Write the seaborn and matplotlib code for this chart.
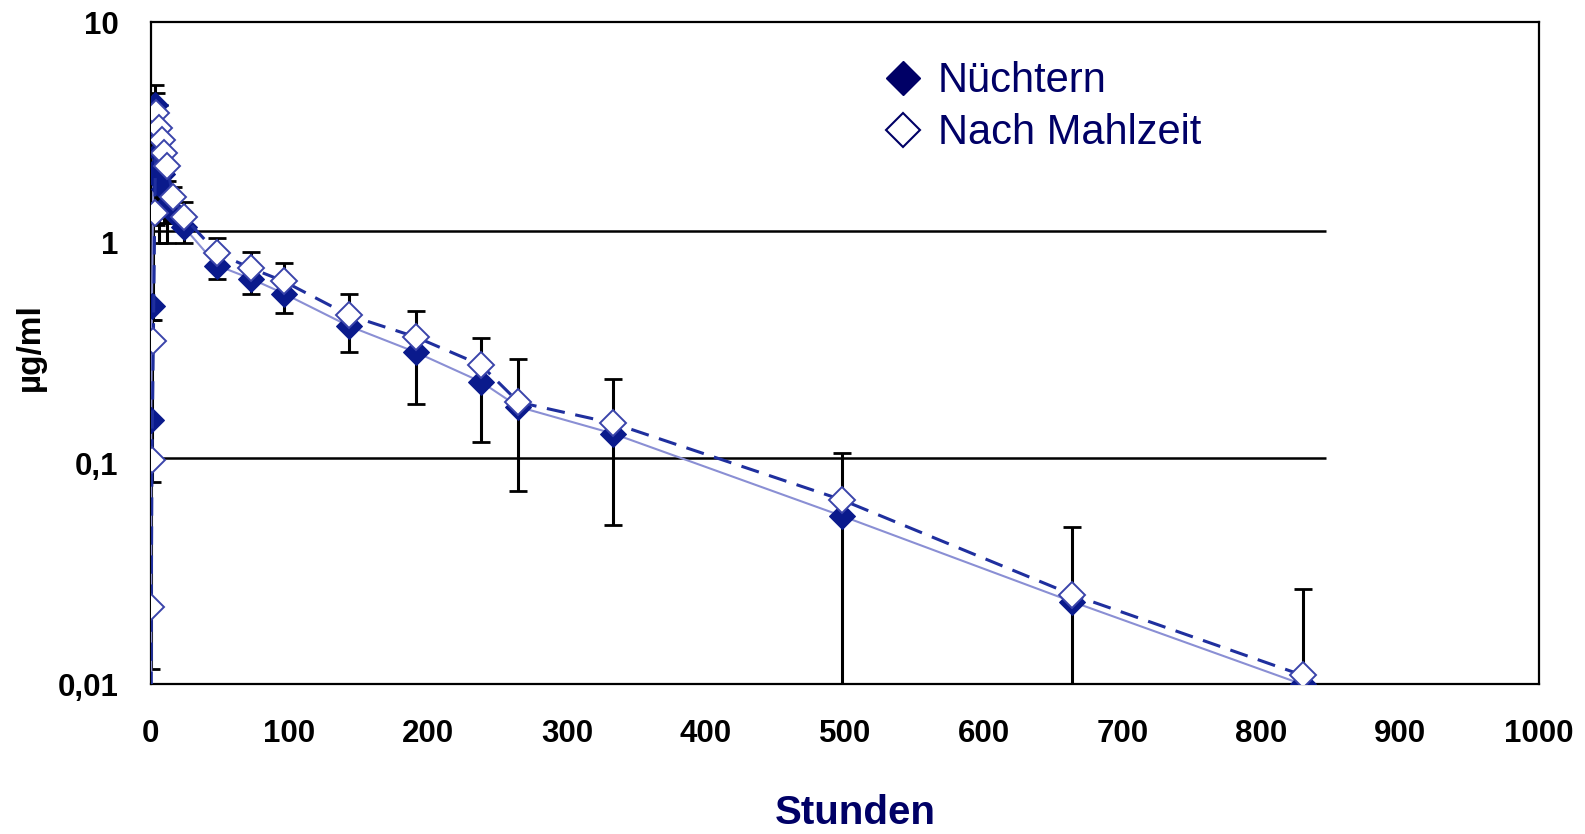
import numpy as np
import pandas as pd
import matplotlib
matplotlib.use("Agg")
import matplotlib.pyplot as plt
import seaborn as sns
from matplotlib.lines import Line2D

# ---- data ----
hours = [0, 0.5, 1, 2, 3, 4, 6, 8, 10, 12, 16, 24, 48, 72, 96,
         143, 191, 238, 265, 333, 498, 664, 830]
nuechtern = [0, 0.158, 0.52, 2.07, 4.22, 3.31, 2.59, 2.05, 1.75, 1.48, 1.38, 1.18,
             0.79, 0.69, 0.59, 0.42, 0.32, 0.235, 0.181, 0.137, 0.058, 0.0237, 0.0100]
nach_mahlzeit = [0, 0.0225, 0.104, 0.36, 1.36, 3.87, 3.31, 2.93, 2.55, 2.22, 1.62, 1.31,
                 0.90, 0.77, 0.67, 0.47, 0.375, 0.28, 0.19, 0.1526, 0.0686, 0.0255, 0.0110]
err_low = [np.nan, 0.0118, 0.083, 0.45, 1.5, 1.2, 1.0, 1.3, 1.23, 1.0, 1.23, 1.0,
           0.685, 0.59, 0.48, 0.32, 0.187, 0.126, 0.0755, 0.0528, 0.0101, 0.009, 0.009]
err_high = [np.nan, 0.45, 1.5, 4.0, 5.19, 4.8, 4.2, 3.0, 2.5, 1.9, 1.8, 1.54,
            1.05, 0.91, 0.81, 0.59, 0.49, 0.37, 0.298, 0.241, 0.112, 0.0516, 0.027]
grid_levels = [1.127, 0.106]
x_ticks = [0, 100, 200, 300, 400, 500, 600, 700, 800, 900, 1000]
x_tick_labels = ["0", "100", "200", "300", "400", "500", "600", "700", "800", "900", "1000"]
y_ticks = [0.01, 0.1, 1, 10]
y_tick_labels = ["0,01", "0,1", "1", "10"]
series_labels = ["Nüchtern", "Nach Mahlzeit"]

# ---- style ----
sns.set_style("white")
plt.rcParams['font.family'] = ['Liberation Sans', 'DejaVu Sans']

NAVY = "#000066"
MARK = "#0a1a8c"

fig = plt.figure(figsize=(15.85, 8.34), dpi=100)
ax = fig.add_axes([0.095, 0.1793, 0.8758, 0.7941])

df = pd.DataFrame({"Stunden": hours, "Nüchtern": nuechtern,
                   "Nach Mahlzeit": nach_mahlzeit,
                   "lo": err_low, "hi": err_high})

# error bars (behind the markers)
e = df.dropna()
ax.errorbar(e["Stunden"], e["Nüchtern"],
            yerr=[e["Nüchtern"] - e["lo"], e["hi"] - e["Nüchtern"]],
            fmt="none", ecolor="black", elinewidth=2.2, capsize=6.5,
            capthick=2.0, zorder=1.5)

# reference lines
ax.hlines(grid_levels, 0, 847, colors="black", linewidth=1.8, zorder=1)

sns.lineplot(data=df, x="Stunden", y="Nüchtern", ax=ax, estimator=None, sort=False,
             color="#8a8fd4", linewidth=1.5, marker="D", markersize=13,
             markerfacecolor=MARK, markeredgecolor=MARK, zorder=3)
sns.lineplot(data=df, x="Stunden", y="Nach Mahlzeit", ax=ax, estimator=None, sort=False,
             color="#1f2f9e", linewidth=2.2, linestyle=(0, (6, 3.5)), marker="D",
             markersize=13, markerfacecolor="white", markeredgecolor="#3a44aa",
             markeredgewidth=1.4, zorder=4)

ax.set_yscale("log")
ax.set_xlim(0, 1000)
ax.set_ylim(0.01, 10)
ax.set_xticks(x_ticks)
ax.set_xticklabels(x_tick_labels)
ax.set_yticks(y_ticks)
ax.set_yticklabels(y_tick_labels)
ax.yaxis.set_minor_locator(matplotlib.ticker.NullLocator())
ax.tick_params(axis="both", which="major", direction="out", length=8, width=1.6,
               color="black", labelcolor="black", labelsize=22.5, pad=15)
ax.tick_params(axis="x", pad=17)
for lab in ax.get_xticklabels() + ax.get_yticklabels():
    lab.set_fontweight("bold")

for s in ax.spines.values():
    s.set_visible(True)
    s.set_color("black")
    s.set_linewidth(1.6)

ax.set_xlabel("Stunden", fontsize=29, fontweight="bold", color=NAVY)
ax.xaxis.set_label_coords(0.5075, -0.165)
ax.set_ylabel("µg/ml", fontsize=24, fontweight="bold", color="black")
ax.yaxis.set_label_coords(-0.0755, 0.51)

handles = [Line2D([], [], ls="none", marker="D", markersize=17,
                  markerfacecolor=NAVY, markeredgecolor=NAVY),
           Line2D([], [], ls="none", marker="D", markersize=17,
                  markerfacecolor="white", markeredgecolor=NAVY, markeredgewidth=1.5)]
leg = ax.legend(handles, series_labels, loc="upper left",
                bbox_to_anchor=(0.5577, 0.9265), bbox_transform=fig.transFigure,
                frameon=False, fontsize=30, labelcolor=NAVY, handlelength=0.9,
                handletextpad=0.4, labelspacing=0.29, borderpad=0, borderaxespad=0)

fig.savefig("out.png", dpi=100)
